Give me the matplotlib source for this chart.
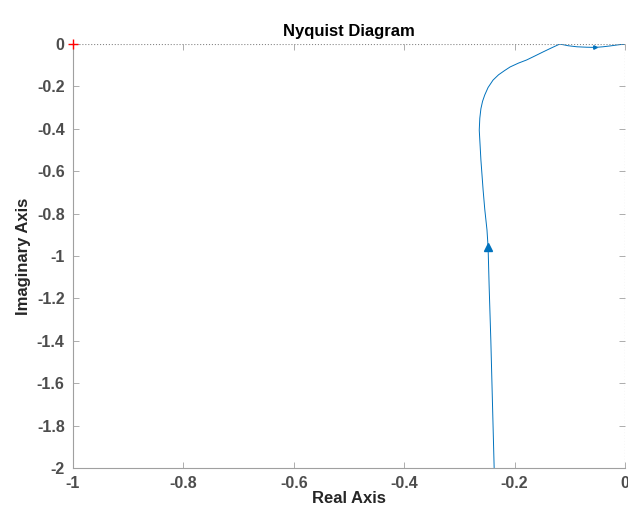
import numpy as np

import matplotlib
matplotlib.use("Agg")

import matplotlib.pyplot as plt

plt.rcParams['font.family'] = ['Liberation Sans', 'DejaVu Sans']

# Curva de Nyquist
re = [-0.237, -0.240, -0.243, -0.246, -0.248, -0.250, -0.254, -0.257, -0.261,
      -0.264, -0.263, -0.261, -0.258, -0.254, -0.248, -0.239, -0.229, -0.218,
      -0.208, -0.193, -0.178, -0.163, -0.149, -0.133, -0.118, -0.103, -0.087,
      -0.070, -0.054, -0.040, -0.027, -0.013, 0.0]
im = [-2.0, -1.7, -1.4, -1.15, -0.958, -0.877, -0.78, -0.689, -0.547,
      -0.406, -0.35, -0.305, -0.27, -0.24, -0.205, -0.17, -0.145, -0.125,
      -0.108, -0.09, -0.075, -0.056, -0.038, -0.018, 0.0, -0.008, -0.013,
      -0.015, -0.016, -0.013, -0.009, -0.004, 0.0]

arrow_re, arrow_im = -0.248, -0.958
arrow2_re, arrow2_im = -0.054, -0.016

xticks = [-1, -0.8, -0.6, -0.4, -0.2, 0]
yticks = [0, -0.2, -0.4, -0.6, -0.8, -1, -1.2, -1.4, -1.6, -1.8, -2]

azul = '#0072BD'
gris = '#4d4d4d'

fig = plt.figure(figsize=(6.28, 5.18), dpi=100)
ax = fig.add_axes([0.1162, 0.0965, 0.8790, 0.8185])

ax.plot(re, im, color=azul, lw=0.7)
ax.plot(arrow_re, arrow_im, marker='^', color=azul, ms=6, mec=azul)
ax.plot(arrow2_re, arrow2_im, marker='>', color=azul, ms=2.5, mec=azul)
ax.plot(-1, 0, marker='+', color='red', ms=7, mew=1, clip_on=False, zorder=5)

ax.axhline(0, color='#888888', ls=':', lw=0.8)
ax.axvline(0, color='#888888', ls=':', lw=0.8)

ax.set_xlim(-1, 0)
ax.set_ylim(-2, 0)
ax.set_xticks(xticks)
ax.set_yticks(yticks)
ax.set_xticklabels(['%g' % t for t in xticks])
ax.set_yticklabels(['%g' % t for t in yticks])

for s in ['top', 'right']:
    ax.spines[s].set_visible(False)
for s in ['left', 'bottom']:
    ax.spines[s].set_color('#a0a0a0')
    ax.spines[s].set_linewidth(0.8)

ax.tick_params(direction='in', top=True, right=True, length=4, width=0.6,
               color='#a0a0a0', labelsize=11.5, labelcolor=gris, pad=6)
for lab in ax.get_xticklabels() + ax.get_yticklabels():
    lab.set_fontweight('bold')

ax.set_title('Nyquist Diagram', fontsize=12, fontweight='bold', pad=6)
ax.set_xlabel('Real Axis', fontsize=12, fontweight='bold', color='#262626', labelpad=0)
ax.set_ylabel('Imaginary Axis', fontsize=12, fontweight='bold', color='#262626', labelpad=4)

plt.savefig('out.png', dpi=100)
